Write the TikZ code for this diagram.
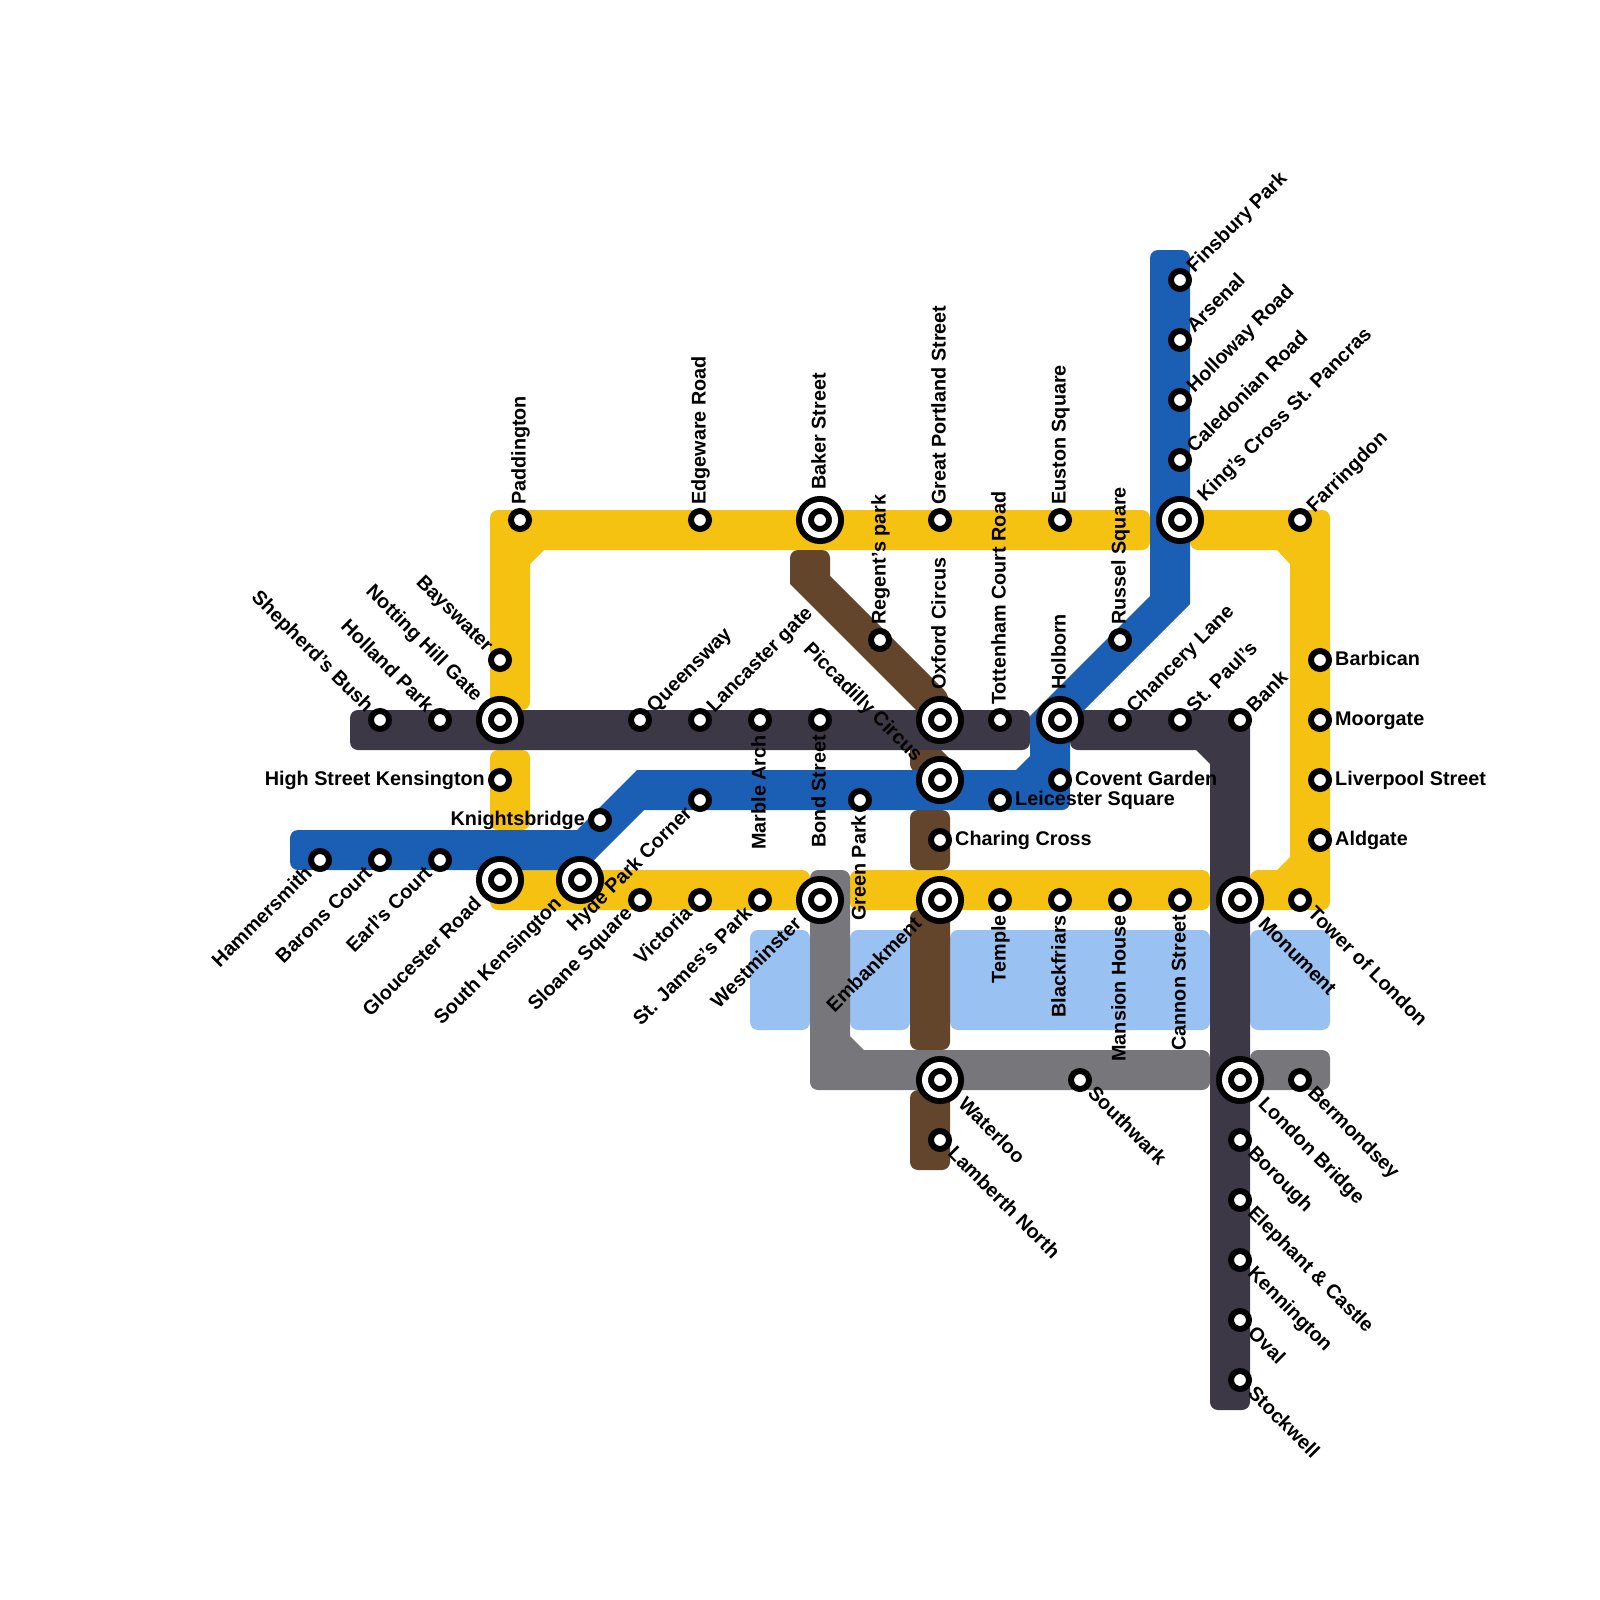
\documentclass[tikz,border=0pt]{standalone}
\usepackage{fontspec}
\usepackage{xcolor}
\setmainfont{Liberation Sans}
\definecolor{railyellow}{HTML}{F5C211}
\definecolor{railblue}{HTML}{1A5FB4}
\definecolor{raildark}{HTML}{3D3846}
\definecolor{railbrown}{HTML}{63452C}
\definecolor{railgrey}{HTML}{77767B}
\definecolor{water}{HTML}{99C1F1}

\begin{document}
\begin{tikzpicture}[
  x=1pt, y=-1pt,
  rail/.style={rounded corners=8pt},
  stopmark/.style={circle, draw=black, fill=white, line width=6pt,
                   minimum size=18pt, inner sep=0pt, outer sep=3pt},
  hubmark/.style={circle, draw=black, fill=white, line width=6pt, double=white,
                  double distance=6pt, minimum size=30pt, inner sep=0pt, outer sep=12pt},
  labtext/.style={font=\fontsize{19.8}{22}\selectfont\bfseries, inner sep=3pt, text=black,
                  text height=15pt, text depth=4pt},
  labN/.style={label={[labtext, rotate=90, anchor=west]90:#1}},
  labS/.style={label={[labtext, rotate=90, anchor=east]270:#1}},
  labE/.style={label={[labtext, anchor=west]0:#1}},
  labW/.style={label={[labtext, anchor=east]180:#1}},
  labNE/.style={label={[labtext, rotate=45, anchor=west]45:#1}},
  labSW/.style={label={[labtext, rotate=45, anchor=east]225:#1}},
  labNW/.style={label={[labtext, rotate=-45, anchor=east]135:#1}},
  labSE/.style={label={[labtext, rotate=-45, anchor=west]-45:#1}},
]
  \useasboundingbox (0,0) rectangle (1600,1600);

  % River blocks
  \fill[rail, water] (750,930) rectangle (810,1030);
  \fill[rail, water] (850,930) rectangle (910,1030);
  \fill[rail, water] (950,930) rectangle (1210,1030);
  \fill[rail, water] (1250,930) rectangle (1330,1030);

  % Yellow line pieces
  \fill[rail, railyellow] (490,510) -- (1150,510) -- (1150,550) [sharp corners] -- (544,550) -- (530,564)
        [rounded corners=8pt] -- (530,710) -- (490,710) -- cycle;
  \fill[rail, railyellow] (490,750) rectangle (530,830);
  \fill[rail, railyellow] (490,870) rectangle (810,910);
  \fill[rail, railyellow] (850,870) rectangle (1210,910);
  \fill[rail, railyellow] (1190,510) -- (1330,510) -- (1330,910) -- (1250,910) -- (1250,870)
        [sharp corners] -- (1277,870) -- (1290,857) -- (1290,564) -- (1277,550)
        [rounded corners=8pt] -- (1190,550) -- cycle;

  % Brown line pieces
  \fill[rail, railbrown] (790,550) -- (830,550) [sharp corners] -- (830,576)
        [rounded corners=8pt] -- (950,696) [sharp corners] -- (941,750) -- (950,759)
        [rounded corners=8pt] -- (950,772) -- (910,772) [sharp corners] -- (910,730) -- (916,710)
        -- (790,584) [rounded corners=8pt] -- cycle;
  \fill[rail, railbrown] (910,810) rectangle (950,870);
  \fill[rail, railbrown] (910,910) rectangle (950,1050);
  \fill[rail, railbrown] (910,1090) rectangle (950,1170);

  % Dark line pieces
  \fill[rail, raildark] (350,710) rectangle (1030,750);
  \fill[rail, raildark] (1070,710) -- (1250,710) -- (1250,1410) -- (1210,1410)
        [sharp corners] -- (1210,764) -- (1196,750)
        [rounded corners=8pt] -- (1070,750) -- cycle;

  % Grey line pieces
  \fill[rail, railgrey] (810,870) -- (850,870) [sharp corners] -- (850,1036) -- (864,1050)
        [rounded corners=8pt] -- (1210,1050) -- (1210,1090) -- (810,1090) -- cycle;
  \fill[rail, railgrey] (1250,1050) rectangle (1330,1090);

  % Blue line
  \fill[rail, railblue] (290,830) [sharp corners] -- (577,830) -- (637,770) -- (1016,770) -- (1030,756)
        -- (1030,716) -- (1150,596) [rounded corners=8pt] -- (1150,250) -- (1190,250) [sharp corners] -- (1190,604)
        -- (1070,724) [rounded corners=8pt] -- (1070,810) [sharp corners] -- (644,810) -- (584,870)
        [rounded corners=8pt] -- (290,870) -- cycle;

  % Stations along the top
  \node[stopmark, labN={Paddington}] (paddington) at (520,520) {};
  \node[stopmark, labN={Edgeware Road}] (edgeware) at (700,520) {};
  \node[hubmark, labN={Baker Street}] (baker) at (820,520) {};
  \node[stopmark, labN={Regent's park}] (regents) at (880,640) {};
  \node[stopmark, labN={Great Portland Street}] (portland) at (940,520) {};
  \node[stopmark, labN={Euston Square}] (euston) at (1060,520) {};
  \node[stopmark, labN={Russel Square}] (russel) at (1120,640) {};
  \node[hubmark, labNE={King's Cross St. Pancras}] (kingscross) at (1180,520) {};
  \node[stopmark, labNE={Caledonian Road}] (caledonian) at (1180,460) {};
  \node[stopmark, labNE={Holloway Road}] (holloway) at (1180,400) {};
  \node[stopmark, labNE={Arsenal}] (arsenal) at (1180,340) {};
  \node[stopmark, labNE={Finsbury Park}] (finsbury) at (1180,280) {};
  \node[stopmark, labNE={Farringdon}] (farringdon) at (1300,520) {};

  % Stations on the right side
  \node[stopmark, labE={Barbican}] (barbican) at (1320,660) {};
  \node[stopmark, labE={Moorgate}] (moorgate) at (1320,720) {};
  \node[stopmark, labE={Liverpool Street}] (liverpool) at (1320,780) {};
  \node[stopmark, labE={Aldgate}] (aldgate) at (1320,840) {};

  % Stations along the middle
  \node[stopmark, labNW={Shepherd's Bush}] (shepherds) at (380,720) {};
  \node[stopmark, labNW={Holland Park}] (holland) at (440,720) {};
  \node[hubmark, labNW={Notting Hill Gate}] (notting) at (500,720) {};
  \node[stopmark, labNW={Bayswater}] (bayswater) at (500,660) {};
  \node[stopmark, labNE={Queensway}] (queensway) at (640,720) {};
  \node[stopmark, labNE={Lancaster gate}] (lancaster) at (700,720) {};
  \node[stopmark, labS={Marble Arch}] (marble) at (760,720) {};
  \node[stopmark, labS={Bond Street}] (bond) at (820,720) {};
  \node[hubmark, labN={Oxford Circus}] (oxford) at (940,720) {};
  \node[stopmark, labN={Tottenham Court Road}] (tottenham) at (1000,720) {};
  \node[hubmark, labN={Holborn}] (holborn) at (1060,720) {};
  \node[stopmark, labNE={Chancery Lane}] (chancery) at (1120,720) {};
  \node[stopmark, labNE={St. Paul's}] (stpauls) at (1180,720) {};
  \node[stopmark, labNE={Bank}] (bank) at (1240,720) {};
  \node[stopmark, labW={High Street Kensington}] (highstreet) at (500,780) {};
  \node[stopmark, labW={Knightsbridge}] (knightsbridge) at (600,820) {};
  \node[stopmark, labSW={Hyde Park Corner}] (hydepark) at (700,800) {};
  \node[stopmark, labS={Green Park}] (greenpark) at (860,800) {};
  \node[hubmark, labNW={Piccadilly Circus}] (piccadilly) at (940,780) {};
  \node[stopmark, labE={Leicester Square}] (leicester) at (1000,800) {};
  \node[stopmark, labE={Covent Garden}] (covent) at (1060,780) {};
  \node[stopmark, labE={Charing Cross}] (charing) at (940,840) {};

  % Stations along the bottom
  \node[stopmark, labSW={Hammersmith}] (hammersmith) at (320,860) {};
  \node[stopmark, labSW={Barons Court}] (barons) at (380,860) {};
  \node[stopmark, labSW={Earl's Court}] (earls) at (440,860) {};
  \node[hubmark, labSW={Gloucester Road}] (gloucester) at (500,880) {};
  \node[hubmark, labSW={South Kensington}] (southken) at (580,880) {};
  \node[stopmark, labSW={Sloane Square}] (sloane) at (640,900) {};
  \node[stopmark, labSW={Victoria}] (victoria) at (700,900) {};
  \node[stopmark, labSW={St. James's Park}] (stjames) at (760,900) {};
  \node[hubmark, labSW={Westminster}] (westminster) at (820,900) {};
  \node[hubmark, labSW={Embankment}] (embankment) at (940,900) {};
  \node[stopmark, labS={Temple}] (temple) at (1000,900) {};
  \node[stopmark, labS={Blackfriars}] (blackfriars) at (1060,900) {};
  \node[stopmark, labS={Mansion House}] (mansion) at (1120,900) {};
  \node[stopmark, labS={Cannon Street}] (cannon) at (1180,900) {};
  \node[hubmark, labSE={Monument}] (monument) at (1240,900) {};
  \node[stopmark, labSE={Tower of London}] (tower) at (1300,900) {};

  % South of the river
  \node[hubmark, labSE={Waterloo}] (waterloo) at (940,1080) {};
  \node[stopmark, labSE={Lamberth North}] (lamberth) at (940,1140) {};
  \node[stopmark, labSE={Southwark}] (southwark) at (1080,1080) {};
  \node[hubmark, labSE={London Bridge}] (londonbridge) at (1240,1080) {};
  \node[stopmark, labSE={Bermondsey}] (bermondsey) at (1300,1080) {};
  \node[stopmark, labSE={Borough}] (borough) at (1240,1140) {};
  \node[stopmark, labSE={Elephant \& Castle}] (elephant) at (1240,1200) {};
  \node[stopmark, labSE={Kennington}] (kennington) at (1240,1260) {};
  \node[stopmark, labSE={Oval}] (oval) at (1240,1320) {};
  \node[stopmark, labSE={Stockwell}] (stockwell) at (1240,1380) {};
\end{tikzpicture}
\end{document}
